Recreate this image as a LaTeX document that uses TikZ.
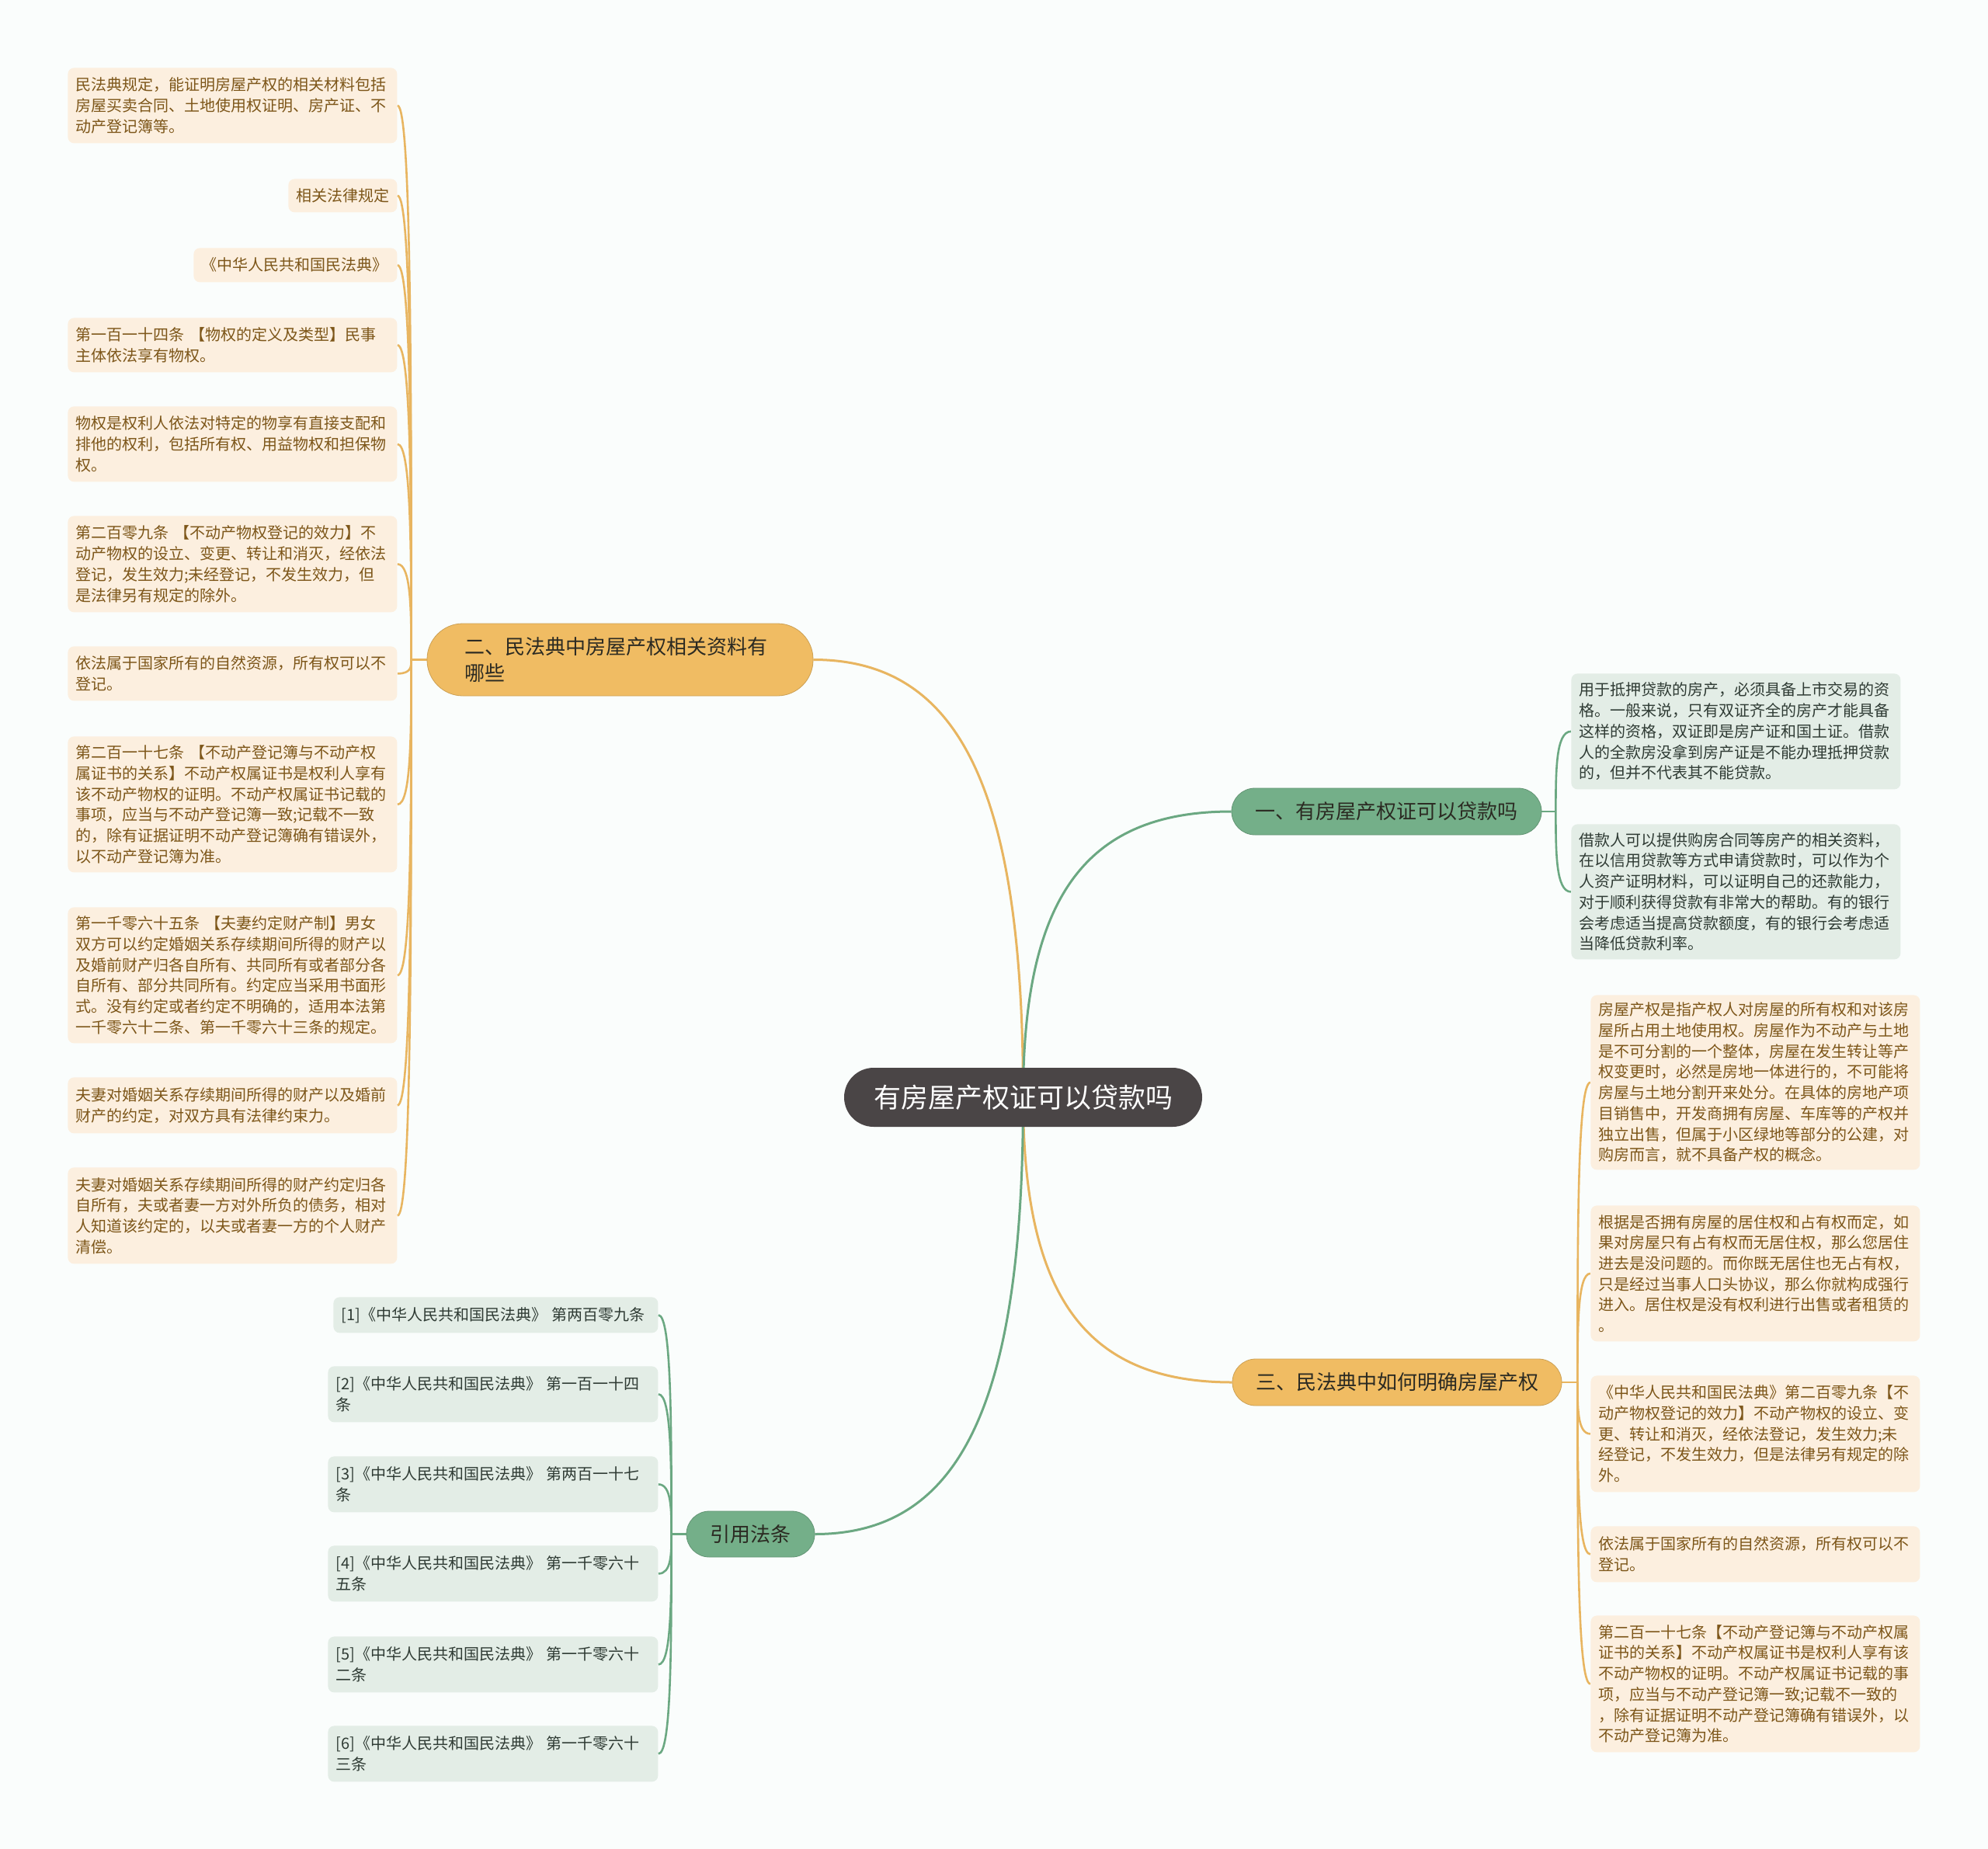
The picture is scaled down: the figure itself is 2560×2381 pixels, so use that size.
\documentclass[tikz,border=0pt]{standalone}
\usepackage{fontspec}
\setmainfont{Noto Sans CJK SC}
\usetikzlibrary{calc}
\definecolor{bgc}{HTML}{FAFDFC}
\definecolor{ofill}{HTML}{F0BC63}
\definecolor{oline}{HTML}{E8B560}
\definecolor{gfill}{HTML}{74AF89}
\definecolor{gline}{HTML}{6BA882}
\definecolor{lofill}{HTML}{FCEFDF}
\definecolor{lotext}{HTML}{7D5619}
\definecolor{lgfill}{HTML}{E3EDE6}
\definecolor{lgtext}{HTML}{2F3B34}
\definecolor{cfill}{HTML}{4A4546}
\definecolor{btext}{HTML}{2B2A22}
\pgfdeclarelayer{bgl}
\pgfdeclarelayer{lines}
\pgfsetlayers{bgl,lines,main}
\tikzset{
  leafO/.style={anchor=north west, fill=lofill, text=lotext, rounded corners=4pt,
    inner xsep=5pt, inner ysep=0pt, align=left,
    font=\fontsize{10pt}{13.35pt}\selectfont},
  leafG/.style={leafO, fill=lgfill, text=lgtext},
  branchO/.style={fill=ofill, draw=ofill!85!black, line width=0.4pt, text=btext, inner sep=0pt,
    font=\fontsize{13pt}{17pt}\selectfont},
  branchG/.style={branchO, fill=gfill, draw=gfill!85!black},
  olink/.style={draw=oline, line width=1.3pt},
  glink/.style={draw=gline, line width=1.3pt},
  omain/.style={draw=oline, line width=1.5pt},
  gmain/.style={draw=gline, line width=1.5pt}
}
\begin{document}
\begin{tikzpicture}[x=0.5pt,y=-0.5pt]
\begin{pgfonlayer}{bgl}
\fill[bgc] (0,0) rectangle (2560,2381);
\end{pgfonlayer}
\useasboundingbox (0,0) rectangle (2560,2381);

% central
\node[fill=cfill, text=white, rounded corners=19pt, minimum width=230.5pt, minimum height=38pt,
  inner sep=0pt, font=\fontsize{17.5pt}{20pt}\selectfont] (C) at (1317.5,1413) {有房屋产权证可以贷款吗};

% branches
\node[branchO, rounded corners=23pt, minimum width=248.5pt, minimum height=46.5pt,
  text width=200.5pt, align=left] (B2) at (798.5,849.5) {二、民法典中房屋产权相关资料有\\哪些};
\node[branchG, rounded corners=15pt, minimum width=199.5pt, minimum height=30pt] (B1) at (1785.5,1045) {一、有房屋产权证可以贷款吗};
\node[branchO, rounded corners=15pt, minimum width=212pt, minimum height=30pt] (B3) at (1799,1780) {三、民法典中如何明确房屋产权};
\node[branchG, rounded corners=14.7pt, minimum width=82.5pt, minimum height=29.5pt] (B4) at (966.5,1975.5) {引用法条};

% left leaves
\node[leafO, text width=202pt, minimum height=48.5pt] (L1) at (87,87) {民法典规定，能证明房屋产权的相关材料包括\\房屋买卖合同、土地使用权证明、房产证、不\\动产登记簿等。};
\node[leafO, text width=60pt, minimum height=21.5pt] (L2) at (371,230) {相关法律规定};
\node[leafO, text width=121pt, minimum height=22pt] (L3) at (249,319) {《中华人民共和国民法典》};
\node[leafO, text width=202pt, minimum height=35pt] (L4) at (87,409) {第一百一十四条 【物权的定义及类型】民事\\主体依法享有物权。};
\node[leafO, text width=202pt, minimum height=48.5pt] (L5) at (87,523) {物权是权利人依法对特定的物享有直接支配和\\排他的权利，包括所有权、用益物权和担保物\\权。};
\node[leafO, text width=202pt, minimum height=62pt] (L6) at (87,664) {第二百零九条 【不动产物权登记的效力】不\\动产物权的设立、变更、转让和消灭，经依法\\登记，发生效力;未经登记，不发生效力，但\\是法律另有规定的除外。};
\node[leafO, text width=202pt, minimum height=35pt] (L7) at (87,832) {依法属于国家所有的自然资源，所有权可以不\\登记。};
\node[leafO, text width=202pt, minimum height=87.5pt] (L8) at (87,948) {第二百一十七条 【不动产登记簿与不动产权\\属证书的关系】不动产权属证书是权利人享有\\该不动产物权的证明。不动产权属证书记载的\\事项，应当与不动产登记簿一致;记载不一致\\的，除有证据证明不动产登记簿确有错误外，\\以不动产登记簿为准。};
\node[leafO, text width=202pt, minimum height=87.5pt] (L9) at (87,1168) {第一千零六十五条 【夫妻约定财产制】男女\\双方可以约定婚姻关系存续期间所得的财产以\\及婚前财产归各自所有、共同所有或者部分各\\自所有、部分共同所有。约定应当采用书面形\\式。没有约定或者约定不明确的，适用本法第\\一千零六十二条、第一千零六十三条的规定。};
\node[leafO, text width=202pt, minimum height=36pt] (L10) at (87,1387) {夫妻对婚姻关系存续期间所得的财产以及婚前\\财产的约定，对双方具有法律约束力。};
\node[leafO, text width=202pt, minimum height=62pt] (L11) at (87,1503) {夫妻对婚姻关系存续期间所得的财产约定归各\\自所有，夫或者妻一方对外所负的债务，相对\\人知道该约定的，以夫或者妻一方的个人财产\\清偿。};

% right leaves of B1
\node[leafG, text width=202pt, minimum height=74.5pt] (R1) at (2023,867) {用于抵押贷款的房产，必须具备上市交易的资\\格。一般来说，只有双证齐全的房产才能具备\\这样的资格，双证即是房产证和国土证。借款\\人的全款房没拿到房产证是不能办理抵押贷款\\的，但并不代表其不能贷款。};
\node[leafG, text width=202pt, minimum height=87pt] (R2) at (2023,1061) {借款人可以提供购房合同等房产的相关资料，\\在以信用贷款等方式申请贷款时，可以作为个\\人资产证明材料，可以证明自己的还款能力，\\对于顺利获得贷款有非常大的帮助。有的银行\\会考虑适当提高贷款额度，有的银行会考虑适\\当降低贷款利率。};

% right leaves of B3
\node[leafO, text width=202pt, minimum height=112.5pt] (R3) at (2048,1281) {房屋产权是指产权人对房屋的所有权和对该房\\屋所占用土地使用权。房屋作为不动产与土地\\是不可分割的一个整体，房屋在发生转让等产\\权变更时，必然是房地一体进行的，不可能将\\房屋与土地分割开来处分。在具体的房地产项\\目销售中，开发商拥有房屋、车库等的产权并\\独立出售，但属于小区绿地等部分的公建，对\\购房而言，就不具备产权的概念。};
\node[leafO, text width=202pt, minimum height=87.5pt] (R4) at (2048,1552) {根据是否拥有房屋的居住权和占有权而定，如\\果对房屋只有占有权而无居住权，那么您居住\\进去是没问题的。而你既无居住也无占有权，\\只是经过当事人口头协议，那么你就构成强行\\进入。居住权是没有权利进行出售或者租赁的\\。};
\node[leafO, text width=202pt, minimum height=75pt] (R5) at (2048,1771) {《中华人民共和国民法典》第二百零九条【不\\动产物权登记的效力】不动产物权的设立、变\\更、转让和消灭，经依法登记，发生效力;未\\经登记，不发生效力，但是法律另有规定的除\\外。};
\node[leafO, text width=202pt, minimum height=36pt] (R6) at (2048,1965) {依法属于国家所有的自然资源，所有权可以不\\登记。};
\node[leafO, text width=202pt, minimum height=88pt] (R7) at (2048,2080) {第二百一十七条【不动产登记簿与不动产权属\\证书的关系】不动产权属证书是权利人享有该\\不动产物权的证明。不动产权属证书记载的事\\项，应当与不动产登记簿一致;记载不一致的\\，除有证据证明不动产登记簿确有错误外，以\\不动产登记簿为准。};

% citation leaves
\node[leafG, text width=199pt, minimum height=23pt] (K1) at (429,1670) {[1]《中华人民共和国民法典》 第两百零九条};
\node[leafG, text width=202.5pt, minimum height=36pt] (K2) at (422,1759) {[2]《中华人民共和国民法典》 第一百一十四\\条};
\node[leafG, text width=202.5pt, minimum height=36pt] (K3) at (422,1875) {[3]《中华人民共和国民法典》 第两百一十七\\条};
\node[leafG, text width=202.5pt, minimum height=36pt] (K4) at (422,1990) {[4]《中华人民共和国民法典》 第一千零六十\\五条};
\node[leafG, text width=202.5pt, minimum height=36pt] (K5) at (422,2107) {[5]《中华人民共和国民法典》 第一千零六十\\二条};
\node[leafG, text width=202.5pt, minimum height=36pt] (K6) at (422,2222) {[6]《中华人民共和国民法典》 第一千零六十\\三条};

% hubs
\coordinate (hL) at ([xshift=-10pt]B2.west);
\coordinate (h1) at ([xshift=9pt]B1.east);
\coordinate (h3) at ([xshift=10pt]B3.east);
\coordinate (h4) at ([xshift=-9.5pt]B4.west);

\begin{pgfonlayer}{lines}
% main connectors
\draw[omain] (C.center) .. controls ($(C.center)!0.7!(C.center|-B2.east)$) and ($(B2.east)!0.7!(C.center|-B2.east)$) .. (B2.east);
\draw[gmain] (C.center) .. controls ($(C.center)!0.7!(C.center|-B1.west)$) and ($(B1.west)!0.7!(C.center|-B1.west)$) .. (B1.west);
\draw[omain] (C.center) .. controls ($(C.center)!0.7!(C.center|-B3.west)$) and ($(B3.west)!0.7!(C.center|-B3.west)$) .. (B3.west);
\draw[gmain] (C.center) .. controls ($(C.center)!0.7!(C.center|-B4.east)$) and ($(B4.east)!0.7!(C.center|-B4.east)$) .. (B4.east);
% stubs
\draw[olink] (B2.west) -- (hL);
\draw[glink] (B1.east) -- (h1);
\draw[olink] (B3.east) -- (h3);
\draw[glink] (B4.west) -- (h4);
% leaf connectors
\foreach \nm in {L1,L2,L3,L4,L5,L6,L7,L8,L9,L10,L11}
  \draw[olink] (hL) .. controls ($(hL)!0.5!(hL|-\nm.east)$) and (hL|-\nm.east) .. (\nm.east);
\foreach \nm in {R1,R2}
  \draw[glink] (h1) .. controls ($(h1)!0.5!(h1|-\nm.west)$) and (h1|-\nm.west) .. (\nm.west);
\foreach \nm in {R3,R4,R5,R6,R7}
  \draw[olink] (h3) .. controls ($(h3)!0.5!(h3|-\nm.west)$) and (h3|-\nm.west) .. (\nm.west);
\foreach \nm in {K1,K2,K3,K4,K5,K6}
  \draw[glink] (h4) .. controls ($(h4)!0.5!(h4|-\nm.east)$) and (h4|-\nm.east) .. (\nm.east);
\end{pgfonlayer}
\end{tikzpicture}
\end{document}
